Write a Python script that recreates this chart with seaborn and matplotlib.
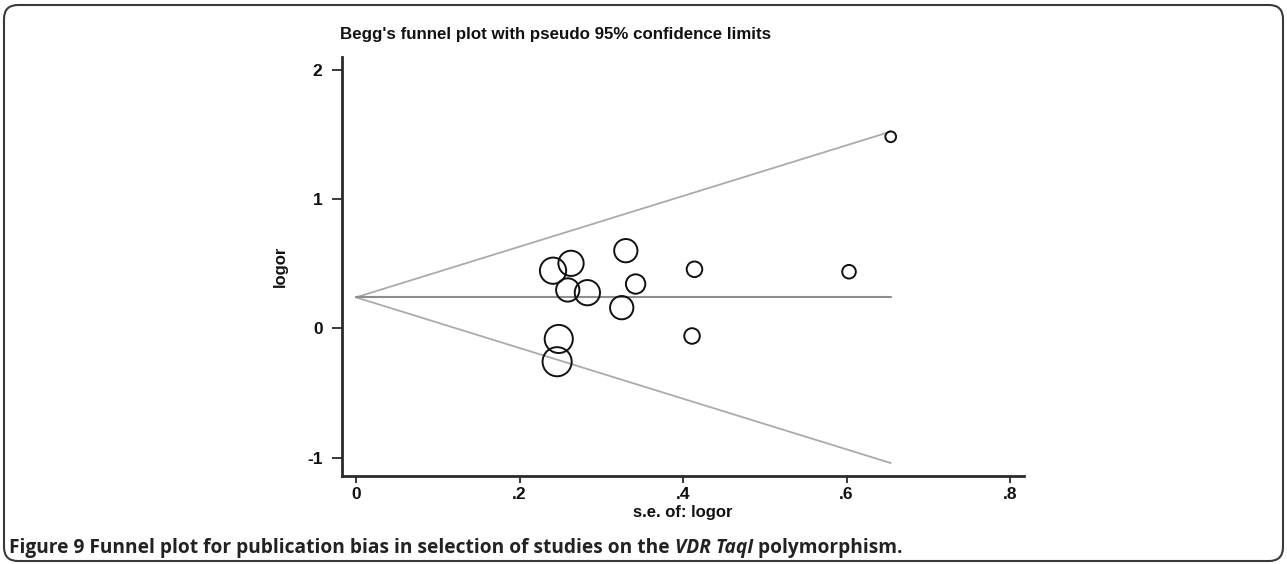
import numpy as np
import pandas as pd
import seaborn as sns
import matplotlib
matplotlib.use("Agg")
import matplotlib.pyplot as plt
from matplotlib.patches import FancyBboxPatch

# Study-level estimates: standard error and log odds ratio
se = [0.241, 0.263, 0.259, 0.283, 0.330, 0.342, 0.325, 0.248, 0.246, 0.414, 0.411, 0.654, 0.603]
logor = [0.447, 0.504, 0.298, 0.277, 0.602, 0.344, 0.161, -0.081, -0.257, 0.458, -0.058, 1.483, 0.439]
# Study weights (%), drive marker area
weight = [10.8, 10.0, 8.5, 10.0, 8.5, 5.9, 8.5, 12.4, 13.3, 3.8, 3.8, 1.8, 2.9]
# Pooled (fixed-effect) log odds ratio
pooled = 0.241

x_ticks = [0, 0.2, 0.4, 0.6, 0.8]
x_tick_labels = ["0", ".2", ".4", ".6", ".8"]
y_ticks = [-1, 0, 1, 2]
y_tick_labels = ["-1", "0", "1", "2"]

title = "Begg's funnel plot with pseudo 95% confidence limits"
x_label = "s.e. of: logor"
y_label = "logor"
caption_parts = [
    ("Figure 9 Funnel plot for publication bias in selection of studies on the ", "normal"),
    ("VDR TaqI", "italic"),
    (" polymorphism.", "normal"),
]

sns.set_theme(style="ticks")
plt.rcParams["font.family"] = ["Liberation Sans", "DejaVu Sans"]

W, H = 1287, 564
fig = plt.figure(figsize=(W / 100, H / 100), dpi=100)
fig.patch.set_facecolor("white")

# Axes frame in pixel terms
left, right, bottom, top = 342, 1024, 476, 57
ax = fig.add_axes([left / W, 1 - bottom / H, (right - left) / W, (bottom - top) / H])
ax.set_facecolor("white")

studies = pd.DataFrame({"se": se, "logor": logor, "weight": weight})

# Pseudo 95% confidence limits around the pooled estimate
se_max = max(se)
limits = pd.DataFrame({"se": [0.0, se_max]})
limits["upper"] = pooled + 1.96 * limits["se"]
limits["lower"] = pooled - 1.96 * limits["se"]
limits["pooled"] = pooled

sns.lineplot(data=limits, x="se", y="upper", color="#ababab", lw=1.3, ax=ax)
sns.lineplot(data=limits, x="se", y="lower", color="#ababab", lw=1.3, ax=ax)
sns.lineplot(data=limits, x="se", y="pooled", color="#8e8e8e", lw=1.5, ax=ax)

# Hollow circles, area proportional to study weight
sns.scatterplot(data=studies, x="se", y="logor", size="weight",
                sizes=(0, 440), size_norm=(0, max(weight)),
                legend=False, ax=ax, zorder=3)
pts = ax.collections[-1]
pts.set_facecolor("none")
pts.set_edgecolor("#111111")
pts.set_linewidth(1.4)

ax.set_xlim(-0.0171, 0.817)
ax.set_ylim(-1.141, 2.10)

ax.set_xticks(x_ticks)
ax.set_xticklabels(x_tick_labels)
ax.set_yticks(y_ticks)
ax.set_yticklabels(y_tick_labels)

for s in ["top", "right"]:
    ax.spines[s].set_visible(False)
for s in ["left", "bottom"]:
    ax.spines[s].set_color("#2a2a2a")
    ax.spines[s].set_linewidth(2.0)

stata_size = 12.5
ax.tick_params(axis="y", direction="out", length=7, width=1.3, color="#2a2a2a",
               pad=7, labelsize=stata_size, labelcolor="#111111")
ax.tick_params(axis="x", direction="out", length=5, width=1.3, color="#2a2a2a",
               pad=3, labelsize=stata_size, labelcolor="#111111")
for lab in ax.get_xticklabels() + ax.get_yticklabels():
    lab.set_fontweight("bold")

ax.set_xlabel(x_label, fontsize=12, fontweight="bold", color="#111111", va="center")
ax.xaxis.set_label_coords(0.5, (bottom - 513) / (bottom - top))
ax.set_ylabel(y_label, fontsize=12, fontweight="bold", color="#111111", va="center")
ax.yaxis.set_label_coords((280 - left) / (right - left), 0.5)

fig.text(340 / W, 1 - 35 / H, title, ha="left", va="center",
         fontsize=12.2, fontweight="bold", color="#111111")

# Caption with italic gene name
cap_font = ["Open Sans", "DejaVu Sans"]
cap_size = 13.8
anchor = fig.text(9 / W, 1 - 548 / H, caption_parts[0][0], ha="left", va="center",
                  fontsize=cap_size, fontweight="bold", family=cap_font, color="#222222")
for txt, style in caption_parts[1:]:
    anchor = ax.annotate(txt, xy=(1, 0), xycoords=anchor, ha="left", va="bottom",
                         fontsize=cap_size, fontweight="bold", fontstyle=style,
                         family=cap_font, color="#222222", annotation_clip=False)

# Rounded panel border
border = FancyBboxPatch((4 / 100, 3 / 100), (1283 - 4) / 100, (559 - 3) / 100,
                        boxstyle="round,pad=0,rounding_size=0.14",
                        transform=fig.dpi_scale_trans, fill=False,
                        ec="#3a3a3a", lw=1.5)
fig.add_artist(border)

fig.savefig("out.png", dpi=100)
